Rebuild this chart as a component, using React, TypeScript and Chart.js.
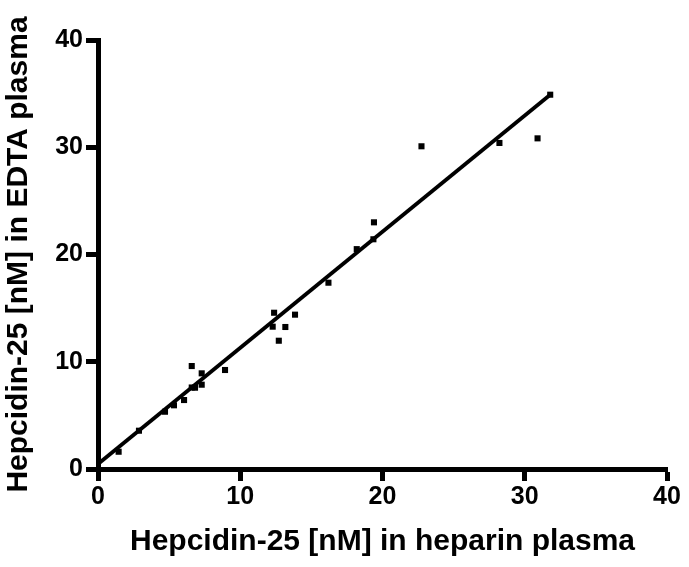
import React, { useEffect, useRef } from "react";
import { Chart, registerables } from "chart.js";

Chart.register(...registerables);

const heparinValues = [1.45, 2.88, 4.71, 5.34, 6.05, 6.59, 6.59, 6.82, 7.29, 7.29, 8.93, 12.38, 13.85, 12.28, 13.17, 12.71, 16.2, 18.19, 19.36, 19.4, 22.74, 28.22, 30.9, 31.79];
const edtaValues = [1.61, 3.57, 5.34, 5.94, 6.43, 9.6, 7.6, 7.58, 8.92, 7.86, 9.23, 14.57, 14.39, 13.27, 13.24, 11.96, 17.37, 20.5, 21.42, 23.0, 30.09, 30.4, 30.83, 34.9];
const fitSlope = 1.083;
const fitIntercept = 0.47;
const fitRange = [0, 31.79];
const tickValues = [0, 10, 20, 30, 40];
const xTitle = "Hepcidin-25 [nM] in heparin plasma";
const yTitle = "Hepcidin-25 [nM] in EDTA plasma";

const FONT = "'Liberation Sans', Arial, Helvetica, sans-serif";

export default function App() {
  const ref = useRef<HTMLCanvasElement | null>(null);

  useEffect(() => {
    document.body.style.margin = "0";
    const canvas = ref.current;
    if (!canvas) return;
    const points = heparinValues.map((x, i) => ({ x, y: edtaValues[i] }));
    const fitLine = fitRange.map((x) => ({ x, y: fitIntercept + fitSlope * x }));

    const axisCommon = {
      type: "linear" as const,
      min: 0,
      max: 40,
      border: { display: true, color: "#000", width: 5 },
      grid: {
        display: true,
        drawOnChartArea: false,
        drawTicks: true,
        tickLength: 12,
        tickWidth: 5,
        tickColor: "#000",
        color: "#000",
      },
      afterBuildTicks: (scale: any) => {
        scale.ticks = tickValues.map((v) => ({ value: v }));
      },
    };

    const chart = new Chart(canvas, {
      type: "scatter",
      data: {
        datasets: [
          {
            data: points,
            pointStyle: "rect",
            pointRadius: 4.3,
            pointBorderWidth: 0,
            backgroundColor: "#000",
            borderColor: "#000",
            showLine: false,
          },
          {
            type: "line",
            data: fitLine,
            borderColor: "#000",
            borderWidth: 3.8,
            pointRadius: 0,
            fill: false,
          } as any,
        ],
      },
      options: {
        animation: false,
        responsive: false,
        layout: { padding: { left: 0, right: 22, top: 40, bottom: 0 } },
        plugins: { legend: { display: false }, tooltip: { enabled: false } },
        scales: {
          x: {
            ...axisCommon,
            position: "bottom",
            ticks: {
              color: "#000",
              padding: 1,
              maxRotation: 0,
              font: { family: FONT, size: 25, weight: "bold" },
            },
            title: {
              display: true,
              text: xTitle,
              color: "#000",
              padding: { top: 0, bottom: 7 },
              font: { family: FONT, size: 30, weight: "bold" },
            },
            afterFit: (scale: any) => {
              scale.height = 98;
            },
          } as any,
          y: {
            ...axisCommon,
            position: "left",
            ticks: {
              color: "#000",
              padding: 3,
              font: { family: FONT, size: 25, weight: "bold" },
            },
            title: {
              display: true,
              text: yTitle,
              color: "#000",
              padding: { top: 1, bottom: 0 },
              font: { family: FONT, size: 30, weight: "bold" },
            },
            afterFit: (scale: any) => {
              scale.width = 98;
            },
          } as any,
        },
      },
    });
    return () => chart.destroy();
  }, []);

  return (
    <div style={{ width: 689, height: 567 }}>
      <canvas ref={ref} width={689} height={567} />
    </div>
  );
}
